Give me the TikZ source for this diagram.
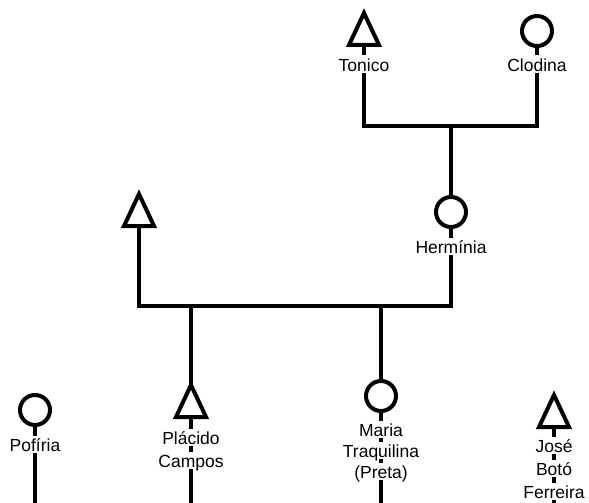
\documentclass[tikz,border=0pt]{standalone}
\usepackage{fontspec}
\setmainfont{Liberation Sans}
\begin{document}
\begin{tikzpicture}[x=1pt,y=-1pt,
  fem/.style={circle,draw,line width=4pt,minimum size=30pt,inner sep=0pt,fill=white},
  tri/.style={draw,line width=4pt,line join=miter,fill=white},
  link/.style={draw,line width=4pt,line join=miter},
  lab/.style={font=\fontsize{17.5}{20}\selectfont,fill=white,inner xsep=0.5pt,inner ysep=0.5pt,
    text height=15pt,text depth=1.5pt,anchor=base}]
\useasboundingbox (0,0) rectangle (589,503);
% female symbols
\node[fem] (clodina) at (537,31) {};
\node[fem] (herminia) at (451,212) {};
\node[fem] (pofiria) at (35,410) {};
\node[fem] (maria) at (381,396) {};
% male symbols (apex and base centre)
\coordinate (tonicoT) at (364,13);  \coordinate (tonicoB) at (364,45);
\coordinate (leftT) at (139,194);   \coordinate (leftB) at (139,226);
\coordinate (placidoT) at (191,385); \coordinate (placidoB) at (191,417);
\coordinate (joseT) at (554,395);   \coordinate (joseB) at (554,427);
% marriage / child points
\coordinate (m1) at (451,126);
\coordinate (m2) at (451,306);
\coordinate (c1) at (191,306);
\coordinate (c2) at (381,306);
\coordinate (pofEnd) at (35,503);
\coordinate (placEnd) at (191,503);
\coordinate (mariaEnd) at (381,503);
\coordinate (joseEnd) at (554,503);
% connectors
\draw[link] (tonicoB) |- (m1) -| (clodina.south);
\draw[link] (m1) -- (herminia.north);
\draw[link] (leftB) |- (m2) -- (herminia.south);
\draw[link] (c1) -- (placidoT);
\draw[link] (c2) -- (maria.north);
\draw[link] (pofiria.south) -- (pofEnd);
\draw[link] (placidoB) -- (placEnd);
\draw[link] (maria.south) -- (mariaEnd);
\draw[link] (joseB) -- (joseEnd);
% triangles
\draw[tri] (tonicoT) -- ++(15,32) -- ++(-30,0) -- cycle;
\draw[tri] (leftT) -- ++(15,32) -- ++(-30,0) -- cycle;
\draw[tri] (placidoT) -- ++(15,32) -- ++(-30,0) -- cycle;
\draw[tri] (joseT) -- ++(15,32) -- ++(-30,0) -- cycle;
% labels
\node[lab] (lTonico) at (364,71) {Tonico};
\node[lab] (lClodina) at (537,71) {Clodina};
\node[lab] (lHerminia) at (451,253) {Hermínia};
\node[lab] (lPofiria) at (35,451) {Pofíria};
\node[lab] (lPlacido1) at (191,444) {Plácido};
\node[lab] (lPlacido2) at (191,467) {Campos};
\node[lab] (lMaria1) at (381,436) {Maria};
\node[lab] (lMaria2) at (381,457) {Traquilina};
\node[lab] (lMaria3) at (381,478) {(Preta)};
\node[lab] (lJose1) at (554,452) {José};
\node[lab] (lJose2) at (554,475) {Botó};
\node[lab] (lJose3) at (554,498) {Ferreira};
\end{tikzpicture}
\end{document}
